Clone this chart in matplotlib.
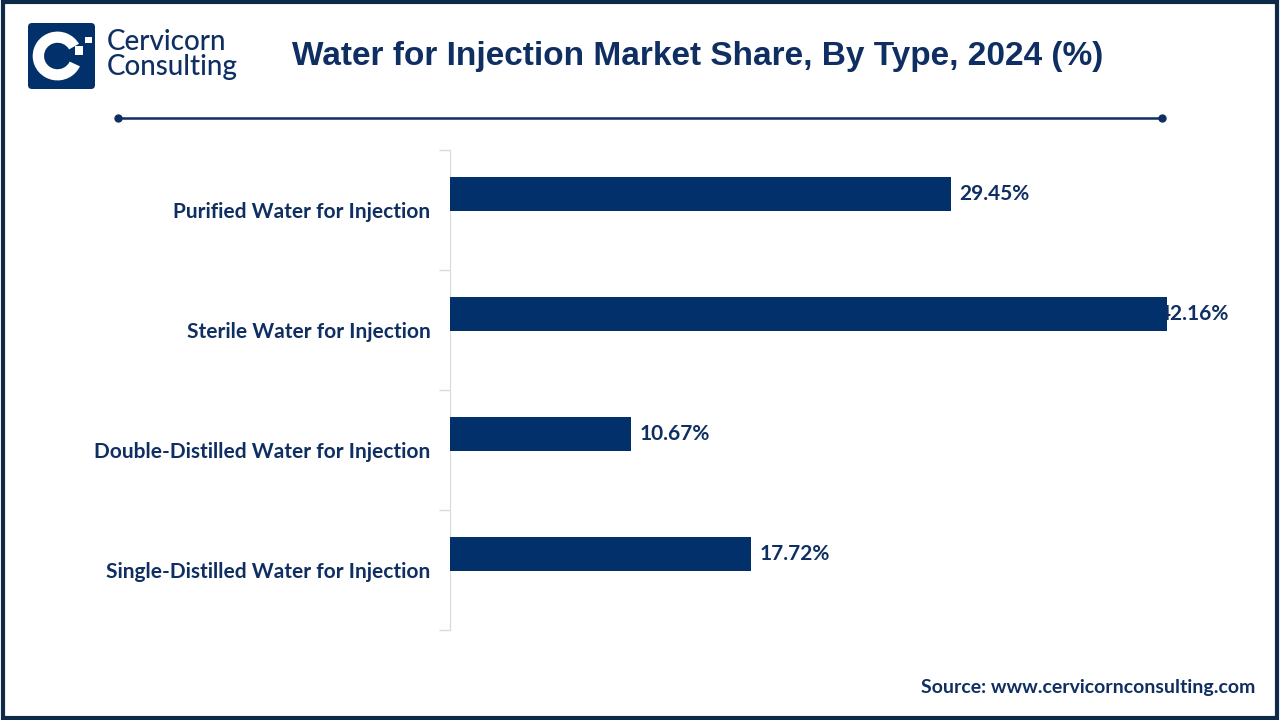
import matplotlib.pyplot as plt
from matplotlib.patches import FancyBboxPatch, Rectangle, Wedge
from matplotlib.lines import Line2D

# data
categories = ['Purified Water for Injection', 'Sterile Water for Injection',
              'Double-Distilled Water for Injection', 'Single-Distilled Water for Injection']
shares = [29.45, 42.16, 10.67, 17.72]

navy = '#02306a'
text_navy = '#0f2f62'

fig = plt.figure(figsize=(12.8, 7.2), dpi=100)

# frame around the whole picture
fig.patches.append(Rectangle((0.002, 0.003), 0.996, 0.994, transform=fig.transFigure,
                             fill=False, edgecolor='#0d2a4a', linewidth=3))

# logo
lax = fig.add_axes([28 / 1280, 1 - 89 / 720, 67 / 1280, 66 / 720])
lax.set_xlim(0, 1)
lax.set_ylim(0, 1)
lax.axis('off')
lax.add_patch(FancyBboxPatch((0, 0), 1, 1, boxstyle='round,pad=0,rounding_size=0.06',
                             facecolor=navy, edgecolor='none'))
lax.add_patch(Wedge((0.44, 0.5), 0.37, 30, 335, width=0.17, facecolor='white', edgecolor='none'))
lax.add_patch(Rectangle((0.70, 0.52), 0.12, 0.13, facecolor='white', edgecolor='none'))
lax.add_patch(Rectangle((0.85, 0.69), 0.10, 0.10, facecolor='white', edgecolor='none'))
fig.text(107 / 1280, 1 - 42 / 720, 'Cervicorn', fontsize=20, color=text_navy,
         family='Lato', fontweight='medium', va='center', ha='left')
fig.text(107 / 1280, 1 - 67 / 720, 'Consulting', fontsize=20, color=text_navy,
         family='Lato', fontweight='medium', va='center', ha='left')

# title and rule below it
fig.text(698 / 1280, 1 - 57 / 720, 'Water for Injection Market Share, By Type, 2024 (%)',
         fontsize=24, fontweight='bold', color=text_navy, family='Liberation Sans',
         ha='center', va='center')
fig.lines.append(Line2D([118 / 1280, 1162 / 1280], [1 - 118 / 720, 1 - 118 / 720],
                        transform=fig.transFigure, color=text_navy, linewidth=1.8,
                        marker='o', markersize=5, markevery=[0, 1]))

# bar chart
ax = fig.add_axes([450 / 1280, 90 / 720, 765 / 1280, 480 / 720])
ypos = list(range(len(categories)))
bar_y = [y - 0.133 for y in ypos]
ax.barh(bar_y, shares, height=0.283, color=navy, zorder=3)
ax.set_xlim(0, 45)
ax.set_ylim(3.5, -0.5)

ax.set_yticks(ypos)
ax.set_yticklabels(categories, fontsize=15, fontweight='bold', color=text_navy, family='Lato')
ax.tick_params(axis='y', which='major', length=0, pad=14)
ax.set_yticks([-0.5, 0.5, 1.5, 2.5, 3.5], minor=True)
ax.tick_params(axis='y', which='minor', length=8, color='#d9d9d9', width=1)
ax.set_xticks([])
for s in ['top', 'right', 'bottom']:
    ax.spines[s].set_visible(False)
ax.spines['left'].set_color('#d9d9d9')

for y, v in zip(bar_y, shares):
    x = v + 0.5
    if v == max(shares):
        x = v - 0.45
    ax.text(x, y, f'{v:.2f}%', fontsize=15, fontweight='bold', color=text_navy,
            family='Lato', va='center', ha='left', zorder=2, clip_on=False)

fig.text(1255 / 1280, 1 - 687 / 720, 'Source: www.cervicornconsulting.com', fontsize=14,
         fontweight='bold', color=text_navy, family='Lato', ha='right', va='center')

fig.savefig('out.png', dpi=100)
